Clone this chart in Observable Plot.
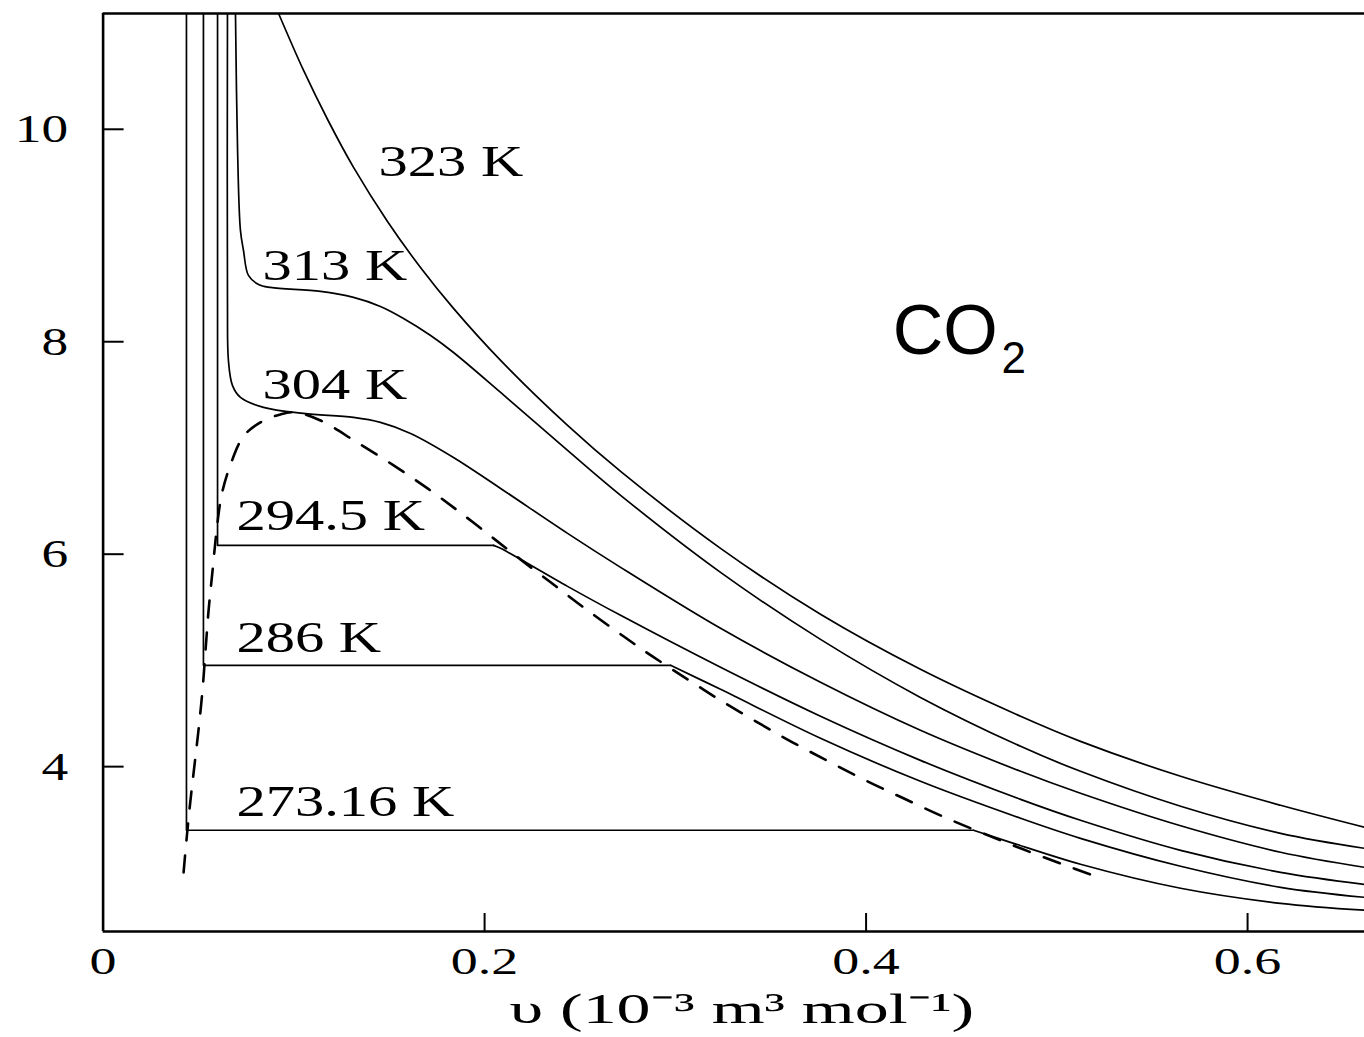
<!DOCTYPE html>
<html>
<head>
<meta charset="utf-8">
<script src="https://cdn.jsdelivr.net/npm/d3@7"></script>
<script src="https://cdn.jsdelivr.net/npm/@observablehq/plot@0.6"></script>
<style>
  html, body { margin: 0; padding: 0; background: #fff; }
</style>
</head>
<body>
<div id="chart"></div>
<script>
// ---- axis ticks and plot extent ----
const xTicks = [0, 0.2, 0.4, 0.6];
const yTicks = [4, 6, 8, 10];
const vMax = 0.6613;    // right edge of the (cut-off) plot
const pTop = 11.09;     // top border pressure
const pBottom = 2.448;  // bottom border pressure

// ---- supercritical / critical isotherms (v in 1e-3 m3/mol, p in MPa) ----
const v323 = [0.0920, 0.1051, 0.1177, 0.1313, 0.1491, 0.1664, 0.1837, 0.2084, 0.2435, 0.2713, 0.3237, 0.3761, 0.4285, 0.4810, 0.5124, 0.5649, 0.6173, 0.6613];
const p323 = [11.09, 10.554, 10.092, 9.641, 9.132, 8.699, 8.314, 7.824, 7.212, 6.779, 6.055, 5.434, 4.916, 4.474, 4.238, 3.909, 3.636, 3.429];

const v313 = [0.0694, 0.0705, 0.0720, 0.0736, 0.0762, 0.0815, 0.0878, 0.1140, 0.1313, 0.1454, 0.1575, 0.1717, 0.1837, 0.2084, 0.2435, 0.2713, 0.3237, 0.3761, 0.4285, 0.4810, 0.5124, 0.5649, 0.6173, 0.6613];
const p313 = [11.09, 9.801, 9.048, 8.859, 8.624, 8.539, 8.511, 8.474, 8.417, 8.332, 8.219, 8.059, 7.899, 7.523, 6.977, 6.554, 5.829, 5.198, 4.652, 4.191, 3.956, 3.627, 3.372, 3.231];

const v304 = [0.0652, 0.0652, 0.0657, 0.0678, 0.0720, 0.0841, 0.1051, 0.1313, 0.1454, 0.1612, 0.1837, 0.2084, 0.2435, 0.2713, 0.3237, 0.3761, 0.4285, 0.4810, 0.5124, 0.5649, 0.6173, 0.6613];
const p304 = [11.09, 8.389, 7.824, 7.589, 7.476, 7.382, 7.325, 7.288, 7.241, 7.137, 6.911, 6.619, 6.196, 5.876, 5.302, 4.794, 4.342, 3.956, 3.749, 3.443, 3.194, 3.052];

// ---- subcritical isotherms: liquid volume, saturation pressure, vapour volume ----
const satNames = ["294.5 K", "286 K", "273.16 K"];
const satVLiquid = [0.0600, 0.0526, 0.0437];
const satP = [6.083, 4.954, 3.401];
const satVGas = [0.2047, 0.2975, 0.4563];

// gas branches (start at the end of the plateau)
const vGas2945 = [0.2047, 0.2084, 0.2435, 0.2713, 0.3237, 0.3761, 0.4285, 0.4810, 0.5124, 0.5649, 0.6173, 0.6613];
const pGas2945 = [6.083, 6.055, 5.697, 5.424, 4.935, 4.474, 4.059, 3.692, 3.495, 3.212, 3.005, 2.892];
const vGas286 = [0.2975, 0.3237, 0.3761, 0.4285, 0.4810, 0.5124, 0.5649, 0.6173, 0.6613];
const pGas286 = [4.954, 4.728, 4.267, 3.862, 3.514, 3.325, 3.062, 2.864, 2.770];
const vGas27316 = [0.4563, 0.4773, 0.5124, 0.5649, 0.6173, 0.6613];
const pGas27316 = [3.401, 3.278, 3.081, 2.855, 2.713, 2.648];

// ---- coexistence dome (dashed) ----
const vDome = [0.0422, 0.0437, 0.0458, 0.0479, 0.0500, 0.0521, 0.0537, 0.0553, 0.0574, 0.0595, 0.0621, 0.0663, 0.0736, 0.0825, 0.0930, 0.1009, 0.1140, 0.1323, 0.1523, 0.1701, 0.1858, 0.2047, 0.2188, 0.2346, 0.2519, 0.2728, 0.2880, 0.3064, 0.3237, 0.3431, 0.3614, 0.3803, 0.3997, 0.4196, 0.4401, 0.4600, 0.4810, 0.5030, 0.5203];
const pDome = [3.005, 3.307, 3.683, 4.012, 4.342, 4.718, 5.095, 5.471, 5.848, 6.224, 6.554, 6.817, 7.109, 7.241, 7.316, 7.335, 7.259, 7.062, 6.836, 6.619, 6.412, 6.149, 5.951, 5.735, 5.499, 5.227, 5.038, 4.822, 4.624, 4.417, 4.229, 4.050, 3.871, 3.702, 3.532, 3.382, 3.231, 3.081, 2.968];

// ---- labels ----
const labelText = ["323 K", "313 K", "304 K", "294.5 K", "286 K", "273.16 K"];
const labelV = [0.1444, 0.0836, 0.0836, 0.0699, 0.0699, 0.0699];
const labelP = [9.697, 8.718, 7.598, 6.365, 5.208, 3.664];
const gasName = "CO";
const gasSub = "2";
const gasV = [0.4140, 0.4710];
const gasP = [8.097, 7.843];
const xLabel = "\u03C5 (10\u207B\u00B3 m\u00B3 mol\u207B\u00B9)";

// ---- build rows ----
const rows = (name, vs, ps) => vs.map((v, i) => ({name, v, p: ps[i]}));
const smooth = [
  ...rows("323 K", v323, p323),
  ...rows("313 K", v313, p313),
  ...rows("304 K", v304, p304),
  ...rows("294.5 K gas", vGas2945, pGas2945),
  ...rows("286 K gas", vGas286, pGas286),
  ...rows("273.16 K gas", vGas27316, pGas27316)
];
const straight = satNames.flatMap((name, i) => [
  {name, v: satVLiquid[i], p: pTop},
  {name, v: satVLiquid[i], p: satP[i]},
  {name, v: satVGas[i], p: satP[i]}
]);
const dome = rows("dome", vDome, pDome);

const W = 1364, H = 1037;
const mL = 102.6, mT = 13, mB = 106, mR = 0;
const frameW = W - mL - mR, frameH = H - mT - mB;
const serif = "'Liberation Serif', 'Times New Roman', serif";
const sans = "'Liberation Sans', Arial, sans-serif";

const svg = Plot.plot({
  width: W,
  height: H,
  marginLeft: mL,
  marginRight: mR,
  marginTop: mT,
  marginBottom: mB,
  style: {fontFamily: serif, background: "white", color: "black"},
  x: {type: "linear", domain: [0, vMax], axis: null},
  y: {type: "linear", domain: [pBottom, pTop], axis: null},
  marks: [
    // frame lines (left, top, bottom)
    Plot.ruleX([0], {stroke: "black", strokeWidth: 2.6}),
    Plot.ruleY([pTop, pBottom], {stroke: "black", strokeWidth: 2.5}),
    // inward ticks
    Plot.ruleX(xTicks.slice(1), {stroke: "black", strokeWidth: 2, insetTop: frameH - 18}),
    Plot.ruleY(yTicks, {stroke: "black", strokeWidth: 2, insetRight: frameW - 21}),
    // tick labels
    Plot.axisX(xTicks, {tickSize: 0, tickPadding: 16, fontSize: 38, fontFamily: serif, fontVariant: "normal", tickFormat: d => String(d), label: null}),
    Plot.axisY(yTicks, {tickSize: 0, tickPadding: 35, fontSize: 41, fontFamily: serif, fontVariant: "normal", tickFormat: d => String(d), label: null}),
    // isotherms
    Plot.line(straight, {x: "v", y: "p", z: "name", stroke: "black", strokeWidth: 1.7, curve: "linear", clip: true}),
    Plot.line(smooth, {x: "v", y: "p", z: "name", stroke: "black", strokeWidth: 1.7, curve: "catmull-rom", clip: true}),
    Plot.line(dome, {x: "v", y: "p", stroke: "black", strokeWidth: 2.6, strokeDasharray: "17,15", curve: "catmull-rom", clip: true}),
    // labels
    Plot.text(labelText, {x: labelV, y: labelP, text: d => d, textAnchor: "start", lineAnchor: "middle", fontSize: 44, fontFamily: serif, fill: "black"}),
    Plot.text([gasName], {x: [gasV[0]], y: [gasP[0]], text: d => d, textAnchor: "start", lineAnchor: "middle", fontSize: 70, fill: "black", fontFamily: sans}),
    Plot.text([gasSub], {x: [gasV[1]], y: [gasP[1]], text: d => d, textAnchor: "start", lineAnchor: "middle", fontSize: 44, fill: "black", fontFamily: sans}),
    Plot.text([xLabel], {frameAnchor: "bottom", dx: 8, dy: 78, text: d => d, textAnchor: "middle", lineAnchor: "middle", fontSize: 43, fontFamily: serif, fill: "black"})
  ]
});

document.getElementById("chart").appendChild(svg);

// horizontally widen the serif text, as in the scanned figure
const yTickText = yTicks.map(String);
const xTickText = xTicks.map(String);
svg.querySelectorAll("text").forEach(t => {
  const s = t.textContent;
  let k = null;
  if (yTickText.includes(s)) k = 1.3;
  else if (xTickText.includes(s)) k = 1.42;
  else if (labelText.includes(s)) k = 1.33;
  else if (s === xLabel) k = 1.58;
  if (k) {
    const w = t.getComputedTextLength();
    t.setAttribute("textLength", (w * k).toFixed(1));
    t.setAttribute("lengthAdjust", "spacingAndGlyphs");
  }
});
</script>
</body>
</html>
